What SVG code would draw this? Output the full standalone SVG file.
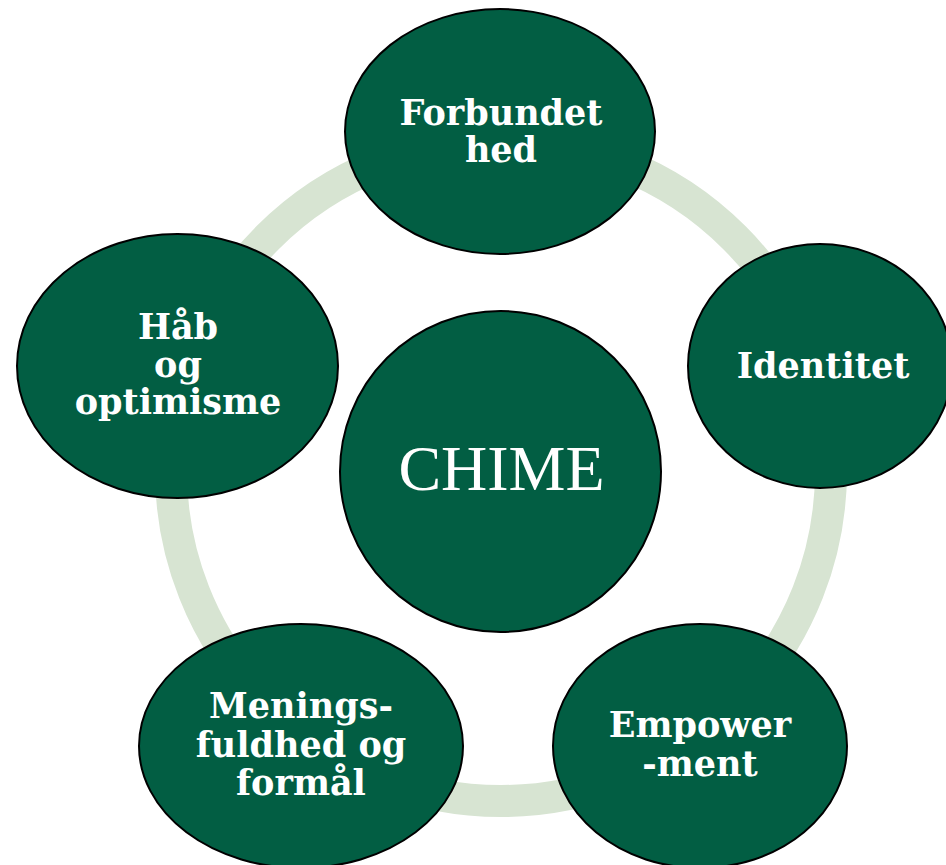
<svg xmlns="http://www.w3.org/2000/svg" width="946" height="865" viewBox="0 0 946 865">
<style>
.node{fill:#025E43;stroke:#000;stroke-width:2}
.lbl{font-family:"DejaVu Serif","Liberation Serif",serif;font-weight:bold;font-size:35px;fill:#fff;text-anchor:middle}
.center{font-family:"Liberation Serif","DejaVu Serif",serif;font-size:64px;fill:#fff;text-anchor:middle}
.ring{fill:none;stroke:#D7E4D2;stroke-width:32}
</style>
<rect width="946" height="865" fill="#fff"/>
<g id="connectors">
<circle class="ring" cx="501" cy="471" r="330"/>
</g>
<g id="node-forbundethed">
<ellipse class="node" cx="500" cy="131.5" rx="155" ry="122.5"/>
<text class="lbl" x="501" y="125">Forbundet</text>
<text class="lbl" x="501" y="162">hed</text>
</g>
<g id="node-identitet">
<ellipse class="node" cx="820" cy="366" rx="132" ry="122"/>
<text class="lbl" x="823" y="378">Identitet</text>
</g>
<g id="node-empowerment">
<ellipse class="node" cx="700" cy="746" rx="147" ry="122"/>
<text class="lbl" x="700" y="737">Empower</text>
<text class="lbl" x="700" y="776">-ment</text>
</g>
<g id="node-meningsfuldhed">
<ellipse class="node" cx="301" cy="746" rx="162" ry="122"/>
<text class="lbl" x="301" y="718">Menings-</text>
<text class="lbl" x="301" y="757">fuldhed og</text>
<text class="lbl" x="301" y="795">formål</text>
</g>
<g id="node-haab">
<ellipse class="node" cx="177.5" cy="366" rx="160.5" ry="132"/>
<text class="lbl" x="178" y="339">Håb</text>
<text class="lbl" x="178" y="377">og</text>
<text class="lbl" x="178" y="414">optimisme</text>
</g>
<g id="node-chime">
<circle class="node" cx="500.5" cy="471.5" r="160.5"/>
<text class="center" x="501.5" y="490">CHIME</text>
</g>
</svg>
